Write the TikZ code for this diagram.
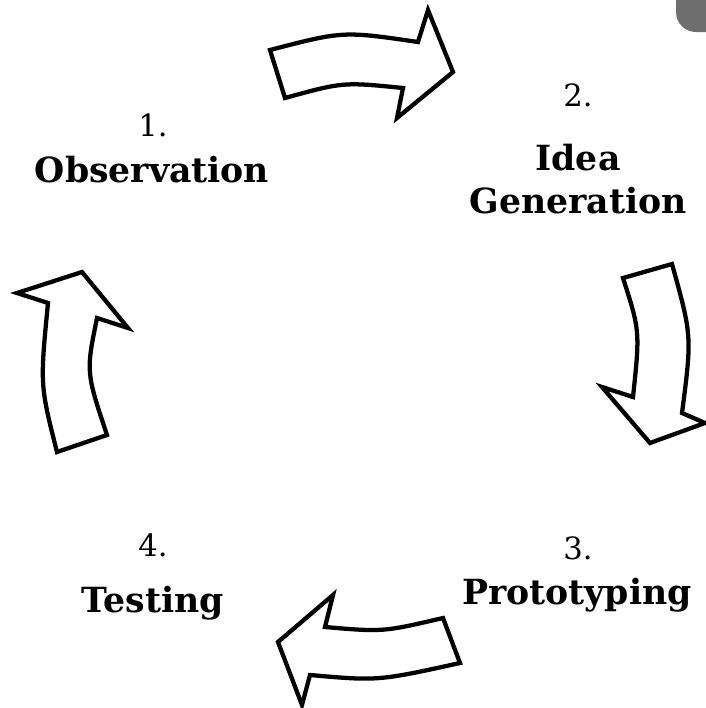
\documentclass[tikz,border=0pt]{standalone}
\usepackage{fontspec}
\setmainfont{DejaVu Serif}

\tikzset{
  cyclearrow/.style={draw=black, line width=3.2pt, line join=miter, fill=white},
  steplabel/.style={inner sep=0.75pt, font=\fontsize{26}{32}\selectfont\bfseries, align=center},
  stepnum/.style={inner sep=0.75pt, font=\fontsize{23}{26}\selectfont},
}

\begin{document}
\begin{tikzpicture}[x=0.75pt,y=0.75pt,yscale=-1,xscale=1]
\path[use as bounding box] (0,0) rectangle (706,708);

%Shape: Rounded corner [top right]
\fill [color={rgb, 255:red, 110; green, 110; blue, 110 }, rounded corners=15pt] (676,-30) rectangle (740,32);

%Shape: Arrow [top, pointing right]
\draw [cyclearrow] (270,50) .. controls (343,31) .. (418,42) -- (428,10) -- (453,72) -- (397,118) -- (403,88) .. controls (343,82) .. (285,98) -- cycle ;
%Shape: Arrow [right, pointing down]
\draw [cyclearrow] (623,278) -- (672,264) .. controls (692,336) .. (682,413) -- (705,423) -- (650,443) -- (602,387) -- (633,397) .. controls (640,331) .. (623,278) -- cycle ;
%Shape: Arrow [bottom, pointing left]
\draw [cyclearrow] (443,618) .. controls (383,632) .. (325,627) -- (333,595) -- (278,642) -- (302,705) -- (310,675) .. controls (378,681) .. (460,663) -- cycle ;
%Shape: Arrow [left, pointing up]
\draw [cyclearrow] (57,452) -- (107,435) .. controls (86,372) .. (97,318) -- (128,328) -- (82,272) -- (17,293) -- (48,303) .. controls (40,385) .. (57,452) -- cycle ;

% Text Node
\node [stepnum] (n1) at (153,125) {1.};
% Text Node
\node [steplabel] (obs) at (152,170) {Observation};
% Text Node
\node [stepnum] (n2) at (578,95) {2.};
% Text Node
\node [steplabel] (idea) at (578,179) {Idea\\Generation};
% Text Node
\node [stepnum] (n3) at (578,548) {3.};
% Text Node
\node [steplabel] (proto) at (577,595) {Prototyping};
% Text Node
\node [stepnum] (n4) at (153,545) {4.};
% Text Node
\node [steplabel] (test) at (153,603) {Testing};

\end{tikzpicture}
\end{document}
